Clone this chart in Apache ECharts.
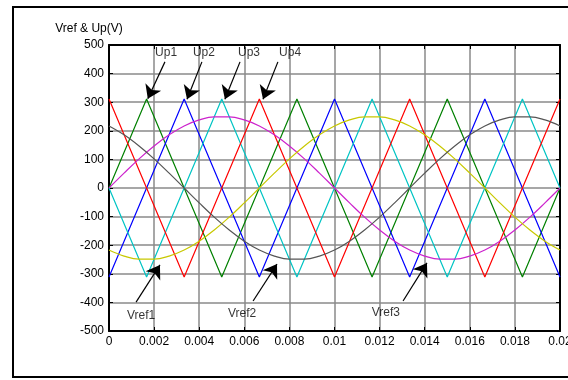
<!DOCTYPE html>
<html>
<head>
<meta charset="utf-8">
<script src="https://cdn.jsdelivr.net/npm/echarts@6/dist/echarts.min.js"></script>
<style>
  html, body { margin: 0; padding: 0; background: #fff; }
  #chart { width: 568px; height: 380px; }
</style>
</head>
<body>
<div id="chart"></div>
<script>
// Time axis (s) and voltage axis (V) ranges
const xTicks = [0, 0.002, 0.004, 0.006, 0.008, 0.01, 0.012, 0.014, 0.016, 0.018, 0.02];
const yTicks = [-500, -400, -300, -200, -100, 0, 100, 200, 300, 400, 500];

// Triangular carriers Up1..Up4 (vertex times and voltages)
const up1T = [0, 0.001667, 0.005, 0.008333, 0.011667, 0.015, 0.018333, 0.02];
const up1V = [0, 311, -311, 311, -311, 311, -311, 0];
const up2T = [0, 0.003333, 0.006667, 0.01, 0.013333, 0.016667, 0.02];
const up2V = [-311, 311, -311, 311, -311, 311, -311];
const up3T = [0, 0.001667, 0.005, 0.008333, 0.011667, 0.015, 0.018333, 0.02];
const up3V = [0, -311, 311, -311, 311, -311, 311, 0];
const up4T = [0, 0.003333, 0.006667, 0.01, 0.013333, 0.016667, 0.02];
const up4V = [311, -311, 311, -311, 311, -311, 311];

// Reference voltages sampled every 0.000667 s
const refT = [0, 0.000667, 0.001333, 0.002, 0.002667, 0.003333, 0.004, 0.004667, 0.005333, 0.006,
  0.006667, 0.007333, 0.008, 0.008667, 0.009333, 0.01, 0.010667, 0.011333, 0.012, 0.012667,
  0.013333, 0.014, 0.014667, 0.015333, 0.016, 0.016667, 0.017333, 0.018, 0.018667, 0.019333, 0.02];
const vref1 = [0, 52, 102, 147, 186, 217, 238, 249, 249, 238, 217, 186, 147, 102, 52, 0,
  -52, -102, -147, -186, -217, -238, -249, -249, -238, -217, -186, -147, -102, -52, 0];
const vref2 = [-217, -238, -249, -249, -238, -217, -186, -147, -102, -52, 0, 52, 102, 147, 186, 217,
  238, 249, 249, 238, 217, 186, 147, 102, 52, 0, -52, -102, -147, -186, -217];
const vref3 = [217, 186, 147, 102, 52, 0, -52, -102, -147, -186, -217, -238, -249, -249, -238, -217,
  -186, -147, -102, -52, 0, 52, 102, 147, 186, 217, 238, 249, 249, 238, 217];

// Callout labels: [text, labelT, labelV, tailT, tailV, tipT, tipV]
const callouts = [
  ['Up1', 0.00253, 472, 0.00248, 441, 0.00172, 312],
  ['Up2', 0.00421, 472, 0.00412, 441, 0.00346, 310],
  ['Up3', 0.00621, 472, 0.00581, 441, 0.00514, 310],
  ['Up4', 0.00803, 472, 0.00749, 441, 0.00683, 310],
  ['Vref1', 0.00142, -447, 0.00120, -399, 0.00226, -269],
  ['Vref2', 0.00590, -440, 0.00639, -395, 0.00745, -266],
  ['Vref3', 0.01228, -437, 0.01304, -395, 0.01410, -262]
];

const FONT = 'Liberation Sans';
const pairs = (t, v) => t.map((x, i) => [x, v[i]]);

function lineSeries(t, v, color, smooth) {
  return {
    type: 'line', data: pairs(t, v), showSymbol: false, smooth: smooth ? 0.4 : false,
    lineStyle: { color: color, width: 1.2 }, silent: true, z: 3
  };
}

const chart = echarts.init(document.getElementById('chart'), null, { renderer: 'canvas' });

const gridLine = { show: true, lineStyle: { color: '#8a8a8a', width: 1.5 } };
const tick = { show: true, inside: true, length: 4, lineStyle: { color: '#000', width: 1 } };

chart.setOption({
  animation: false,
  backgroundColor: '#fff',
  textStyle: { fontFamily: FONT },
  graphic: [
    { type: 'rect', shape: { x: 13, y: 7, width: 600, height: 370 },
      style: { fill: 'none', stroke: '#000', lineWidth: 2 }, z: 0 },
    { type: 'text', x: 89, y: 29,
      style: { text: 'Vref & Up(V)', font: '12px "' + FONT + '"', fill: '#000',
        textAlign: 'center', textVerticalAlign: 'middle' } }
  ],
  grid: { left: 109, right: 8, top: 45, bottom: 49, outerBoundsMode: 'none', containLabel: false },
  xAxis: [{
    type: 'value', min: xTicks[0], max: xTicks[xTicks.length - 1], interval: 0.002,
    axisLine: { show: true, onZero: false, lineStyle: { color: '#000', width: 2 } },
    axisTick: tick, splitLine: gridLine,
    axisLabel: { color: '#000', fontSize: 12, fontFamily: FONT, margin: 5,
      formatter: v => String(parseFloat(v.toFixed(3))) }
  }, {
    type: 'value', position: 'top', min: xTicks[0], max: xTicks[xTicks.length - 1], interval: 0.002,
    axisLine: { show: true, onZero: false, lineStyle: { color: '#000', width: 2 } },
    axisTick: tick, splitLine: { show: false }, axisLabel: { show: false }
  }],
  yAxis: [{
    type: 'value', min: yTicks[0], max: yTicks[yTicks.length - 1], interval: 100,
    axisLine: { show: true, onZero: false, lineStyle: { color: '#000', width: 2 } },
    axisTick: tick, splitLine: gridLine,
    axisLabel: { color: '#000', fontSize: 12, fontFamily: FONT, margin: 5 }
  }, {
    type: 'value', position: 'right', min: yTicks[0], max: yTicks[yTicks.length - 1], interval: 100,
    axisLine: { show: true, onZero: false, lineStyle: { color: '#000', width: 2 } },
    axisTick: tick, splitLine: { show: false }, axisLabel: { show: false }
  }],
  series: [
    lineSeries(up1T, up1V, '#008000', false),
    lineSeries(up2T, up2V, '#0000ff', false),
    lineSeries(up3T, up3V, '#00c4c4', false),
    lineSeries(up4T, up4V, '#ff0000', false),
    lineSeries(refT, vref1, '#cc22cc', true),
    lineSeries(refT, vref2, '#c8c800', true),
    lineSeries(refT, vref3, '#555555', true),
    {
      type: 'scatter', silent: true, z: 10, symbolSize: 0,
      data: callouts.map(c => ({ value: [c[1], c[2]], name: c[0] })),
      label: { show: true, position: 'inside', formatter: p => p.name,
        color: '#000', fontSize: 12, fontFamily: FONT },
      markLine: {
        silent: true, animation: false,
        label: { show: false },
        lineStyle: { color: '#000', width: 1.2, type: 'solid' },
        data: callouts.map(c => [
          { coord: [c[3], c[4]], symbol: 'none' },
          { coord: [c[5], c[6]], symbol: 'arrow', symbolSize: 13 }
        ])
      }
    }
  ]
});
</script>
</body>
</html>
